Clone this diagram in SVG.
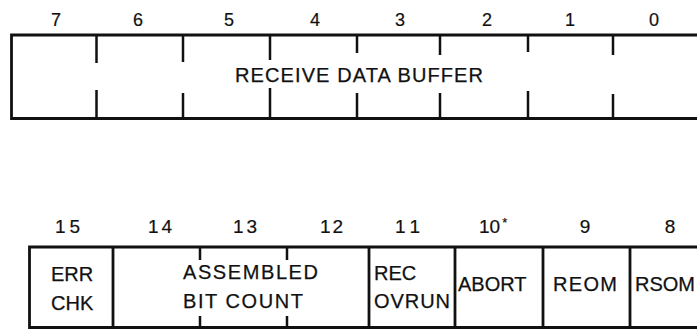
<svg xmlns="http://www.w3.org/2000/svg" width="697" height="329" viewBox="0 0 697 329">
<style>
.ln{stroke:#111;stroke-width:2.8;fill:none;stroke-linecap:butt}
.tk{stroke:#111;stroke-width:2.5;fill:none}
.lb{font-family:"Liberation Sans",Arial,sans-serif;font-size:20px;fill:#111;stroke:#111;stroke-width:0.25}
.nt{font-family:"Liberation Sans",Arial,sans-serif;font-size:18px;fill:#111;stroke:#111;stroke-width:0.2;text-anchor:middle}
.nb{font-family:"Liberation Sans",Arial,sans-serif;font-size:19px;fill:#111;stroke:#111;stroke-width:0.2}
</style>
<rect width="697" height="329" fill="#fff"/>
<g id="bit-numbers-low">
<text class="nt" x="56" y="26">7</text>
<text class="nt" x="138" y="26">6</text>
<text class="nt" x="229" y="26">5</text>
<text class="nt" x="315" y="26">4</text>
<text class="nt" x="400" y="26">3</text>
<text class="nt" x="487" y="26">2</text>
<text class="nt" x="570" y="26">1</text>
<text class="nt" x="654" y="26">0</text>
</g>
<g id="receive-data-buffer">
<path class="ln" d="M700,35 H11.5 V118.5 H700"/>
<path class="tk" d="M96.5,35 V63 M96.5,90 V118.5 M183,35 V62 M183,93 V118.5 M270,35 V60 M270,88 V118.5 M357,35 V53 M357,93 V118.5 M440,35 V55 M440,93 V118.5 M528,35 V52 M528,91 V118.5 M613,35 V55 M613,94 V118.5"/>
<text class="lb" x="235" y="82" textLength="248" lengthAdjust="spacing">RECEIVE DATA BUFFER</text>
</g>
<g id="bit-numbers-high">
<text class="nb" x="55" y="233" textLength="25" lengthAdjust="spacing">15</text>
<text class="nb" x="148" y="233" textLength="24" lengthAdjust="spacing">14</text>
<text class="nb" x="233" y="233" textLength="24" lengthAdjust="spacing">13</text>
<text class="nb" x="320" y="233" textLength="23" lengthAdjust="spacing">12</text>
<text class="nb" x="395" y="233" textLength="25" lengthAdjust="spacing">11</text>
<text class="nb" x="479" y="233">10<tspan font-size="13" dx="2" dy="-6">*</tspan></text>
<text class="nb" x="585" y="233" text-anchor="middle">9</text>
<text class="nb" x="670" y="233" text-anchor="middle">8</text>
</g>
<g id="status-register-frame">
<path class="ln" d="M700,247 H29.5 V327.5 H700"/>
</g>
<g id="err-chk">
<text class="lb" x="51" y="281">ERR</text>
<text class="lb" x="51" y="310">CHK</text>
<path class="ln" d="M113,247 V327.5"/>
</g>
<g id="assembled-bit-count">
<path class="tk" d="M200,247 V260 M200,316 V327.5 M287,247 V260 M287,316 V327.5"/>
<text class="lb" x="183" y="279" textLength="135" lengthAdjust="spacing">ASSEMBLED</text>
<text class="lb" x="183" y="308" textLength="120" lengthAdjust="spacing">BIT COUNT</text>
<path class="ln" d="M369,247 V327.5"/>
</g>
<g id="rec-ovrun">
<text class="lb" x="374" y="280">REC</text>
<text class="lb" x="374" y="308" textLength="76" lengthAdjust="spacing">OVRUN</text>
<path class="ln" d="M455,247 V327.5"/>
</g>
<g id="abort">
<text class="lb" x="458" y="291">ABORT</text>
<path class="ln" d="M543,247 V327.5"/>
</g>
<g id="reom">
<text class="lb" x="553" y="291" textLength="64" lengthAdjust="spacing">REOM</text>
<path class="ln" d="M630,247 V327.5"/>
</g>
<g id="rsom">
<text class="lb" x="635" y="291">RSOM</text>
</g>
</svg>
